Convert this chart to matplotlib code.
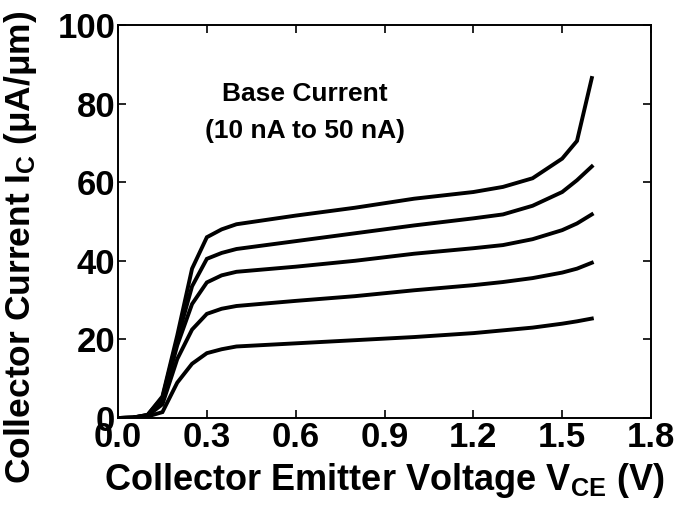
import matplotlib
matplotlib.use("Agg")
import matplotlib.pyplot as plt

# Collector current (uA/um) vs VCE (V) for base currents 10..50 nA
vce = [0.0, 0.05, 0.1, 0.15, 0.2, 0.25, 0.3, 0.35, 0.4, 0.6, 0.8, 1.0, 1.2, 1.3, 1.4, 1.5, 1.55, 1.6]
ic_10nA = [0, 0.1, 0.4, 1.5, 9.0, 13.8, 16.5, 17.5, 18.2, 19.0, 19.8, 20.6, 21.6, 22.3, 23.0, 24.0, 24.6, 25.3]
ic_20nA = [0, 0.1, 0.6, 3.5, 15.0, 22.5, 26.5, 27.8, 28.5, 29.8, 31.0, 32.5, 33.8, 34.6, 35.6, 37.0, 38.0, 39.5]
ic_30nA = [0, 0.1, 0.7, 4.5, 18.5, 29.0, 34.5, 36.3, 37.2, 38.5, 40.0, 41.8, 43.2, 44.0, 45.5, 47.8, 49.5, 51.8]
ic_40nA = [0, 0.1, 0.8, 5.2, 20.0, 33.5, 40.5, 42.0, 43.0, 45.0, 47.0, 49.0, 50.8, 51.8, 54.0, 57.5, 60.5, 64.0]
ic_50nA = [0, 0.1, 0.8, 5.5, 21.0, 38.0, 46.0, 48.0, 49.3, 51.5, 53.5, 55.8, 57.5, 58.8, 61.0, 66.0, 70.5, 86.5]

xticks = [0.0, 0.3, 0.6, 0.9, 1.2, 1.5, 1.8]
yticks = [0, 20, 40, 60, 80, 100]

plt.rcParams['font.family'] = ['Liberation Sans', 'DejaVu Sans']
plt.rcParams['font.weight'] = 'bold'
plt.rcParams['mathtext.fontset'] = 'custom'
plt.rcParams['mathtext.rm'] = 'Liberation Sans:bold'
plt.rcParams['mathtext.bf'] = 'Liberation Sans:bold'
plt.rcParams['mathtext.it'] = 'Liberation Sans:bold'

fig = plt.figure(figsize=(6.85, 5.16), dpi=100)
ax = fig.add_axes([0.1723, 0.1899, 0.7781, 0.7617])

for ic in [ic_10nA, ic_20nA, ic_30nA, ic_40nA, ic_50nA]:
    ax.plot(vce, ic, color='black', lw=2.8, solid_joinstyle='miter')

ax.set_xlim(0, 1.8)
ax.set_ylim(0, 100)
ax.set_xticks(xticks)
ax.set_xticklabels([f'{t:.1f}' for t in xticks])
ax.set_yticks(yticks)
ax.tick_params(direction='in', length=6, width=1.2, top=True, right=True,
               labelsize=25, pad=2)
for s in ax.spines.values():
    s.set_linewidth(1.4)

ax.set_xlabel('Collector Emitter Voltage V$_{\\mathrm{CE}}$ (V)', fontsize=26,
              fontweight='bold', labelpad=5)
ax.set_ylabel('Collector Current I$_{\\mathrm{C}}$ (μA/μm)', fontsize=25.5,
              fontweight='bold')
ax.yaxis.set_label_coords(-0.148, 0.435)

ax.text(0.63, 82.5, 'Base Current', ha='center', va='center', fontsize=19, fontweight='bold')
ax.text(0.63, 73.0, '(10 nA to 50 nA)', ha='center', va='center', fontsize=19, fontweight='bold')

fig.savefig('out.png', dpi=100)
